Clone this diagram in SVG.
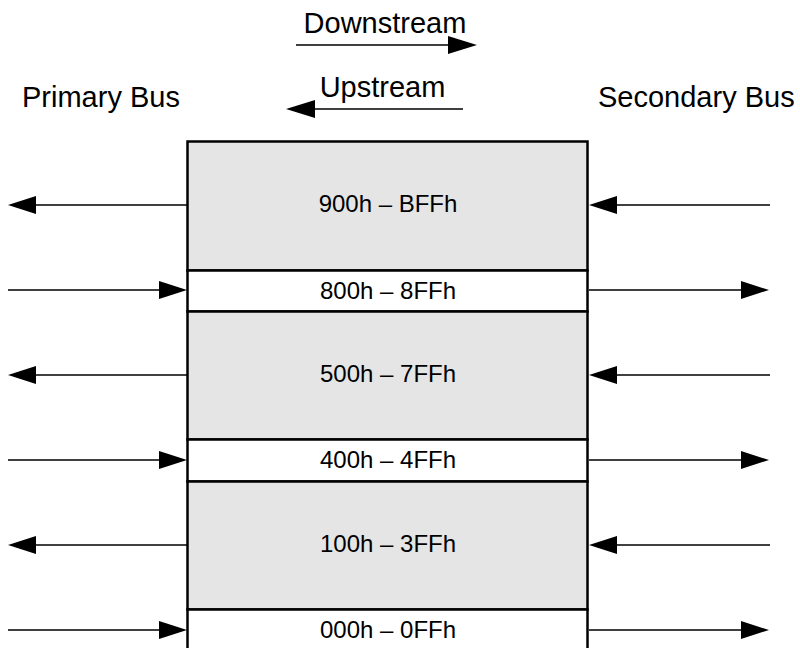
<svg xmlns="http://www.w3.org/2000/svg" width="800" height="648" viewBox="0 0 800 648">
<style>
.t{font-family:"Liberation Sans",Arial,sans-serif;fill:#000}
.big{font-size:29px}
.lbl{font-size:24px;text-anchor:middle}
.g{fill:#e5e5e5;stroke:#000;stroke-width:2.5}
.w{fill:#fff;stroke:#000;stroke-width:2.5}
.ln{stroke:#000;stroke-width:1.6;fill:none}
.hd{fill:#000;stroke:none}
</style>
<rect width="800" height="648" fill="#fff"/>
<g id="legend">
<text class="t big" x="385" y="33" text-anchor="middle">Downstream</text>
<line class="ln" x1="296" y1="45" x2="450" y2="45"/>
<polygon class="hd" points="477,45 448,36 448,54"/>
<text class="t big" x="382.5" y="97" text-anchor="middle">Upstream</text>
<line class="ln" x1="463" y1="109" x2="313" y2="109"/>
<polygon class="hd" points="286,109 315,100 315,118"/>
</g>
<g id="primary-bus"><text class="t big" x="22" y="107">Primary Bus</text></g>
<g id="secondary-bus"><text class="t big" x="598" y="107">Secondary Bus</text></g>
<g id="band-900">
<rect class="g" x="187.5" y="141.5" width="400" height="129"/>
<text class="t lbl" x="388" y="212">900h – BFFh</text>
</g>
<g id="band-800">
<rect class="w" x="187.5" y="270.5" width="400" height="41"/>
<text class="t lbl" x="388" y="299">800h – 8FFh</text>
</g>
<g id="band-500">
<rect class="g" x="187.5" y="311.5" width="400" height="128"/>
<text class="t lbl" x="388" y="382">500h – 7FFh</text>
</g>
<g id="band-400">
<rect class="w" x="187.5" y="439.5" width="400" height="42"/>
<text class="t lbl" x="388" y="468">400h – 4FFh</text>
</g>
<g id="band-100">
<rect class="g" x="187.5" y="481.5" width="400" height="128"/>
<text class="t lbl" x="388" y="552">100h – 3FFh</text>
</g>
<g id="band-000">
<rect class="w" x="187.5" y="609.5" width="400" height="50"/>
<text class="t lbl" x="388" y="638">000h – 0FFh</text>
</g>
<g id="connectors">
<line class="ln" x1="187" y1="205" x2="34" y2="205"/><polygon class="hd" points="8,205 36,196 36,214"/>
<line class="ln" x1="770" y1="205" x2="615" y2="205"/><polygon class="hd" points="589,205 617,196 617,214"/>
<line class="ln" x1="8" y1="290" x2="161" y2="290"/><polygon class="hd" points="187,290 159,281 159,299"/>
<line class="ln" x1="589" y1="290" x2="743" y2="290"/><polygon class="hd" points="769,290 741,281 741,299"/>
<line class="ln" x1="187" y1="375" x2="34" y2="375"/><polygon class="hd" points="8,375 36,366 36,384"/>
<line class="ln" x1="770" y1="375" x2="615" y2="375"/><polygon class="hd" points="589,375 617,366 617,384"/>
<line class="ln" x1="8" y1="460" x2="161" y2="460"/><polygon class="hd" points="187,460 159,451 159,469"/>
<line class="ln" x1="589" y1="460" x2="743" y2="460"/><polygon class="hd" points="769,460 741,451 741,469"/>
<line class="ln" x1="187" y1="545" x2="34" y2="545"/><polygon class="hd" points="8,545 36,536 36,554"/>
<line class="ln" x1="770" y1="545" x2="615" y2="545"/><polygon class="hd" points="589,545 617,536 617,554"/>
<line class="ln" x1="8" y1="630" x2="161" y2="630"/><polygon class="hd" points="187,630 159,621 159,639"/>
<line class="ln" x1="589" y1="630" x2="743" y2="630"/><polygon class="hd" points="769,630 741,621 741,639"/>
</g>
</svg>
